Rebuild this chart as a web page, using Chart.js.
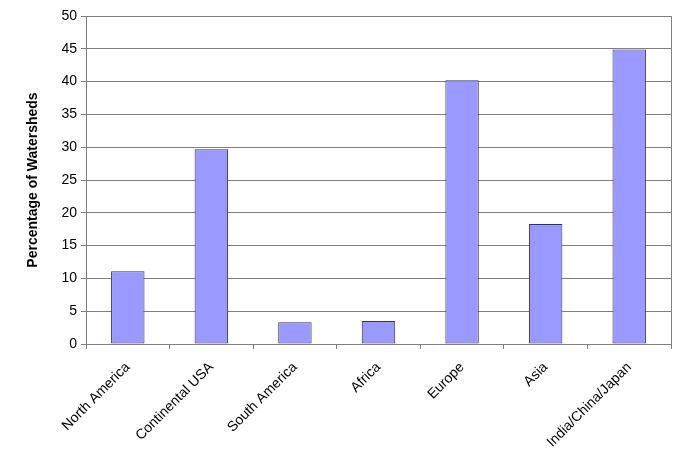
<!DOCTYPE html>
<html>
<head>
<meta charset="utf-8">
<script src="https://cdn.jsdelivr.net/npm/chart.js@4"></script>
<style>
  html, body { margin: 0; padding: 0; background: #fff; }
  #wrap { width: 690px; height: 460px; }
</style>
</head>
<body>
<div id="wrap"><canvas id="chart" width="690" height="460"></canvas></div>
<script>
const regions = ['North America', 'Continental USA', 'South America', 'Africa', 'Europe', 'Asia', 'India/China/Japan'];
const percentWatersheds = [11.1, 29.7, 3.3, 3.5, 40.2, 18.3, 44.9];
const yTicks = [0, 5, 10, 15, 20, 25, 30, 35, 40, 45, 50];

const frame = {
  id: 'frame',
  afterDatasetsDraw(chart) {
    const a = chart.chartArea, ctx = chart.ctx;
    ctx.save();
    ctx.strokeStyle = '#808080';
    ctx.lineWidth = 1;
    ctx.beginPath();
    ctx.moveTo(Math.round(a.right) + 0.5, a.top);
    ctx.lineTo(Math.round(a.right) + 0.5, a.bottom);
    ctx.stroke();
    ctx.restore();
  }
};

new Chart(document.getElementById('chart'), {
  type: 'bar',
  data: {
    labels: regions,
    datasets: [{
      data: percentWatersheds,
      backgroundColor: '#9999ff',
      borderColor: '#333366',
      borderWidth: 1,
      borderSkipped: false,
      barPercentage: 0.4,
      categoryPercentage: 1
    }]
  },
  options: {
    responsive: false,
    animation: false,
    layout: { padding: { top: 16, right: 19, left: 25, bottom: 0 } },
    plugins: { legend: { display: false }, tooltip: { enabled: false } },
    scales: {
      x: {
        grid: { offset: true, drawOnChartArea: false, drawTicks: true, tickLength: 5, color: '#808080' },
        border: { color: '#808080' },
        ticks: {
          color: '#000', minRotation: 45, maxRotation: 45, padding: 10,
          font: { family: 'Liberation Sans, Arial', size: 14 }
        },
        afterFit(s) { s.height = 116; }
      },
      y: {
        min: 0, max: 50,
        afterBuildTicks(s) { s.ticks = yTicks.map(v => ({ value: v })); },
        grid: { color: '#808080', tickLength: 5 },
        border: { color: '#808080' },
        ticks: {
          color: '#000', padding: 4,
          font: { family: 'Liberation Sans, Arial', size: 14 }
        },
        title: {
          display: true, text: 'Percentage of Watersheds', color: '#000',
          font: { family: 'Liberation Sans, Arial', size: 14, weight: 'bold' },
          padding: { top: 0, bottom: 4 }
        },
        afterFit(s) { s.width = 61; }
      }
    }
  },
  plugins: [frame]
});
</script>
</body>
</html>
